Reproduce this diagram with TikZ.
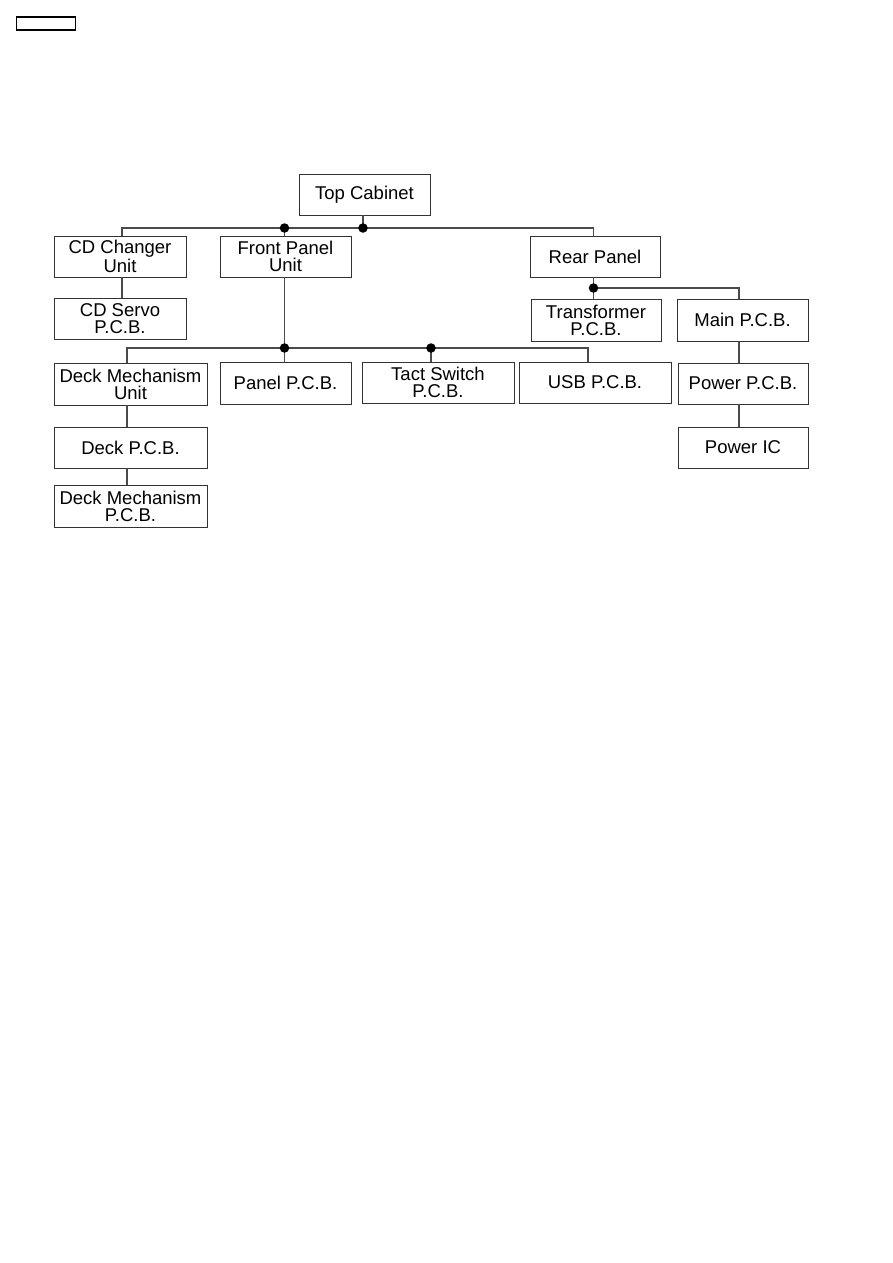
\documentclass[tikz,border=0pt]{standalone}
\usepackage{fontspec}
\setmainfont{Liberation Sans}
\usepackage{tikz}
\usetikzlibrary{calc}
\definecolor{boxline}{HTML}{333333}
\definecolor{wireline}{HTML}{4A4A4A}

\begin{document}
\begin{tikzpicture}[
    x=1pt, y=-1pt,
    part/.style={draw=boxline, line width=0.9pt, inner sep=0pt, align=center,
        font=\fontsize{18.5}{17}\selectfont},
    wire/.style={draw=wireline, line width=1.1pt},
    joint/.style={circle, fill=black, inner sep=0pt, minimum size=9.5pt},
]
    \useasboundingbox (0, 0) rectangle (893, 1263);

    % Page tag
    \node[draw, line width=1.3pt, minimum width=59pt, minimum height=13pt, inner sep=0pt]
        (tag) at (46, 23.5) {};

    % Top level
    \node[part, minimum width=131pt, minimum height=41pt] (top) at (364.5, 194.5) {Top Cabinet};

    % Second row
    \node[part, minimum width=132pt, minimum height=41pt] (cdc) at (120, 256.5) {CD Changer\\Unit};
    \node[part, minimum width=131pt, minimum height=41pt] (front) at (285.5, 256.5) {Front Panel\\Unit};
    \node[part, minimum width=130pt, minimum height=41pt] (rear) at (595, 256.5) {Rear Panel};

    % Under CD changer and rear panel
    \node[part, minimum width=132pt, minimum height=41pt] (servo) at (120, 318.5) {CD Servo\\P.C.B.};
    \node[part, minimum width=130pt, minimum height=42pt] (trafo) at (596, 320) {Transformer\\P.C.B.};
    \node[part, minimum width=131pt, minimum height=42pt] (main) at (742.5, 320) {Main P.C.B.};

    % Under front panel
    \node[part, minimum width=153pt, minimum height=42pt] (dmu) at (130.5, 384) {Deck Mechanism\\Unit};
    \node[part, minimum width=131pt, minimum height=42pt] (panel) at (285.5, 383) {Panel P.C.B.};
    \node[part, minimum width=152pt, minimum height=41pt] (tact) at (438, 382.5) {Tact Switch\\P.C.B.};
    \node[part, minimum width=152pt, minimum height=41pt] (usb) at (595, 382.5) {USB P.C.B.};
    \node[part, minimum width=130pt, minimum height=41pt] (power) at (743, 383.5) {Power P.C.B.};

    % Bottom rows
    \node[part, minimum width=153pt, minimum height=41pt] (deck) at (130.5, 447.5) {Deck P.C.B.};
    \node[part, minimum width=130pt, minimum height=41pt] (pic) at (743, 447.5) {Power IC};
    \node[part, minimum width=153pt, minimum height=42pt] (dmpcb) at (130.5, 506) {Deck Mechanism\\P.C.B.};

    % Junctions
    \coordinate (tj) at (363, 228);
    \coordinate (fj) at (284.5, 228);
    \coordinate (cj) at (122, 228);
    \coordinate (fb) at (284.5, 348);
    \coordinate (dj) at (127, 348);
    \coordinate (tsj) at (431, 348);
    \coordinate (uj) at (588, 348);
    \coordinate (rj) at (593.5, 288);
    \coordinate (mj) at (739, 288);

    % Top bus
    \draw[wire] (tj |- top.south) -- (tj);
    \draw[wire] (cj |- cdc.north) -- (cj) -- (tj) -| (rear.north -| rj);
    \draw[wire] (fj) -- (fj |- front.north);
    \draw[wire] (cj |- cdc.south) -- (cj |- servo.north);

    % Front panel bus
    \draw[wire] (fj |- front.south) -- (fb);
    \draw[wire] (dj |- dmu.north) -- (dj) -- (uj) -- (uj |- usb.north);
    \draw[wire] (fb) -- (fb |- panel.north);
    \draw[wire] (tsj) -- (tsj |- tact.north);
    \draw[wire] (dj |- dmu.south) -- (dj |- deck.north);
    \draw[wire] (dj |- deck.south) -- (dj |- dmpcb.north);

    % Rear panel bus
    \draw[wire] (rj |- rear.south) -- (rj |- trafo.north);
    \draw[wire] (rj) -- (mj) -- (mj |- main.north);
    \draw[wire] (mj |- main.south) -- (mj |- power.north);
    \draw[wire] (mj |- power.south) -- (mj |- pic.north);

    % Dots
    \foreach \j in {tj, fj, fb, tsj, rj}
        \node[joint] at (\j) {};
\end{tikzpicture}
\end{document}
